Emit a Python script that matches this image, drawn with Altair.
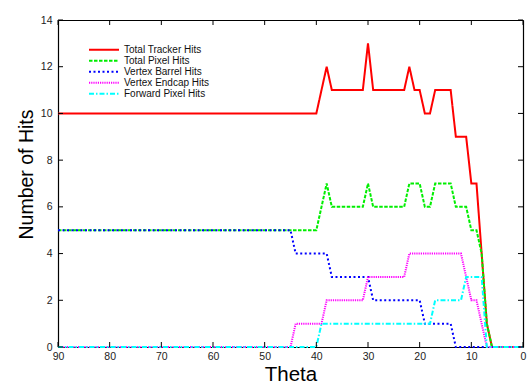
import altair as alt
import pandas as pd

series_names = ["Total Tracker Hits", "Total Pixel Hits", "Vertex Barrel Hits",
                "Vertex Endcap Hits", "Forward Pixel Hits"]
series_colors = ["#ff0000", "#00ee00", "#0000ff", "#ff00ff", "#00ffff"]
series_dashes = [[1, 0], [3.5, 1.5], [2, 2.5], [1.2, 1], [5, 2, 1.5, 2]]

# vertices of each curve (theta in degrees, number of hits)
tracker_theta = [90, 40, 38, 37, 31, 30, 29, 23, 22, 21, 20, 19, 18, 17, 14, 13, 11, 10, 9, 8, 7, 6, 0]
tracker_hits = [10, 10, 12, 11, 11, 13, 11, 11, 12, 11, 11, 10, 10, 11, 11, 9, 9, 7, 7, 4, 1, 0, 0]

pixel_theta = [90, 40, 38, 37, 31, 30, 29, 23, 22, 20, 19, 18, 17, 14, 13, 11, 10, 9, 8, 7, 6, 0]
pixel_hits = [5, 5, 7, 6, 6, 7, 6, 6, 7, 7, 6, 6, 7, 7, 6, 6, 5, 5, 4, 1, 0, 0]

barrel_theta = [90, 45, 44, 38, 37, 30, 29, 20, 19, 14, 13, 0]
barrel_hits = [5, 5, 4, 4, 3, 3, 2, 2, 1, 1, 0, 0]

endcap_theta = [90, 45, 44, 39, 38, 31, 30, 23, 22, 12, 10, 9, 8, 7, 0]
endcap_hits = [0, 0, 1, 1, 2, 2, 3, 3, 4, 4, 2, 2, 1, 0, 0]

forward_theta = [90, 40, 39, 18, 17, 12, 11, 8, 7, 0]
forward_hits = [0, 0, 1, 1, 2, 2, 3, 3, 0, 0]

x_tick_values = [0, 10, 20, 30, 40, 50, 60, 70, 80, 90]
y_tick_values = [0, 2, 4, 6, 8, 10, 12, 14]

rows = []
for name, th, hv in zip(series_names,
                        [tracker_theta, pixel_theta, barrel_theta, endcap_theta, forward_theta],
                        [tracker_hits, pixel_hits, barrel_hits, endcap_hits, forward_hits]):
    for i, (t, v) in enumerate(zip(th, hv)):
        rows.append({"series": name, "theta": t, "hits": v, "idx": i})
df = pd.DataFrame(rows)

W, H = 465, 327
FONT = "Liberation Sans"

x_scale = alt.Scale(domain=[0, 90], reverse=True, nice=False, zero=False)
y_scale = alt.Scale(domain=[0, 14], nice=False)

legend = alt.Legend(
    title=None, orient="none", legendX=30, legendY=25,
    symbolType="stroke", symbolSize=900, symbolStrokeWidth=2,
    labelAlign="left", labelOffset=4, labelFontSize=10, labelFont=FONT,
    labelColor="#111111", labelLimit=0, rowPadding=0, padding=0, clipHeight=9.5,
)

lines = alt.Chart(df).mark_line(strokeWidth=2).encode(
    x=alt.X("theta:Q", scale=x_scale,
            axis=alt.Axis(values=x_tick_values, title="Theta", ticks=False, domain=True,
                          domainColor="black", domainWidth=1.2,
                          grid=False, labelPadding=4, labelFontSize=10.5, labelFont=FONT,
                          labelColor="#222222", titleFont=FONT, titleFontSize=20.5,
                          titleFontWeight="normal", titleColor="#000000",
                          titleX=W / 2, titleY=33, titleBaseline="alphabetic",
                          titleAlign="center", labelFlush=False)),
    y=alt.Y("hits:Q", scale=y_scale,
            axis=alt.Axis(values=y_tick_values, title="Number of Hits", ticks=False,
                          domain=True, domainColor="black", domainWidth=1.2,
                          grid=False, labelPadding=6, labelFontSize=10.5,
                          labelFont=FONT, labelColor="#222222", titleFont=FONT,
                          titleFontSize=19.5, titleFontWeight="normal", titleColor="#000000",
                          titleAngle=270, titleX=-26, titleY=154, titleBaseline="alphabetic",
                          titleAlign="center")),
    color=alt.Color("series:N", scale=alt.Scale(domain=series_names, range=series_colors),
                    legend=legend),
    strokeDash=alt.StrokeDash("series:N",
                              scale=alt.Scale(domain=series_names, range=series_dashes),
                              legend=legend),
    order="idx:Q",
)

# invisible copy carrying the top and right axes that close the frame
frame_layer = alt.Chart(df).mark_line(opacity=0).encode(
    x=alt.X("theta:Q", scale=x_scale,
            axis=alt.Axis(orient="top", labels=False, ticks=False, domain=True,
                          domainColor="black", domainWidth=1.2, grid=False, title=None)),
    y=alt.Y("hits:Q", scale=y_scale,
            axis=alt.Axis(orient="right", labels=False, ticks=False, domain=True,
                          domainColor="black", domainWidth=1.2, grid=False, title=None)),
    detail="series:N",
)

xt = pd.DataFrame({"theta": x_tick_values})
yt = pd.DataFrame({"hits": y_tick_values})

bottom_ticks = alt.Chart(xt).mark_rule(color="black", strokeWidth=1).encode(
    x=alt.X("theta:Q", scale=x_scale, axis=None), y=alt.value(H), y2=alt.value(H - 5))
top_ticks = alt.Chart(xt).mark_rule(color="black", strokeWidth=1).encode(
    x=alt.X("theta:Q", scale=x_scale, axis=None), y=alt.value(0), y2=alt.value(5))
left_ticks = alt.Chart(yt).mark_rule(color="black", strokeWidth=1).encode(
    y=alt.Y("hits:Q", scale=y_scale, axis=None), x=alt.value(0), x2=alt.value(5))
right_ticks = alt.Chart(yt).mark_rule(color="black", strokeWidth=1).encode(
    y=alt.Y("hits:Q", scale=y_scale, axis=None), x=alt.value(W), x2=alt.value(W - 5))

chart = alt.layer(lines, frame_layer, bottom_ticks, top_ticks, left_ticks,
                  right_ticks).resolve_axis(x="independent", y="independent").properties(
    width=W, height=H, background="white",
    autosize=alt.AutoSizeParams(type="none"),
    padding={"left": 58, "top": 20, "right": 4, "bottom": 38},
)

chart.save("out.html", embed_options={"renderer": "svg", "actions": False})
